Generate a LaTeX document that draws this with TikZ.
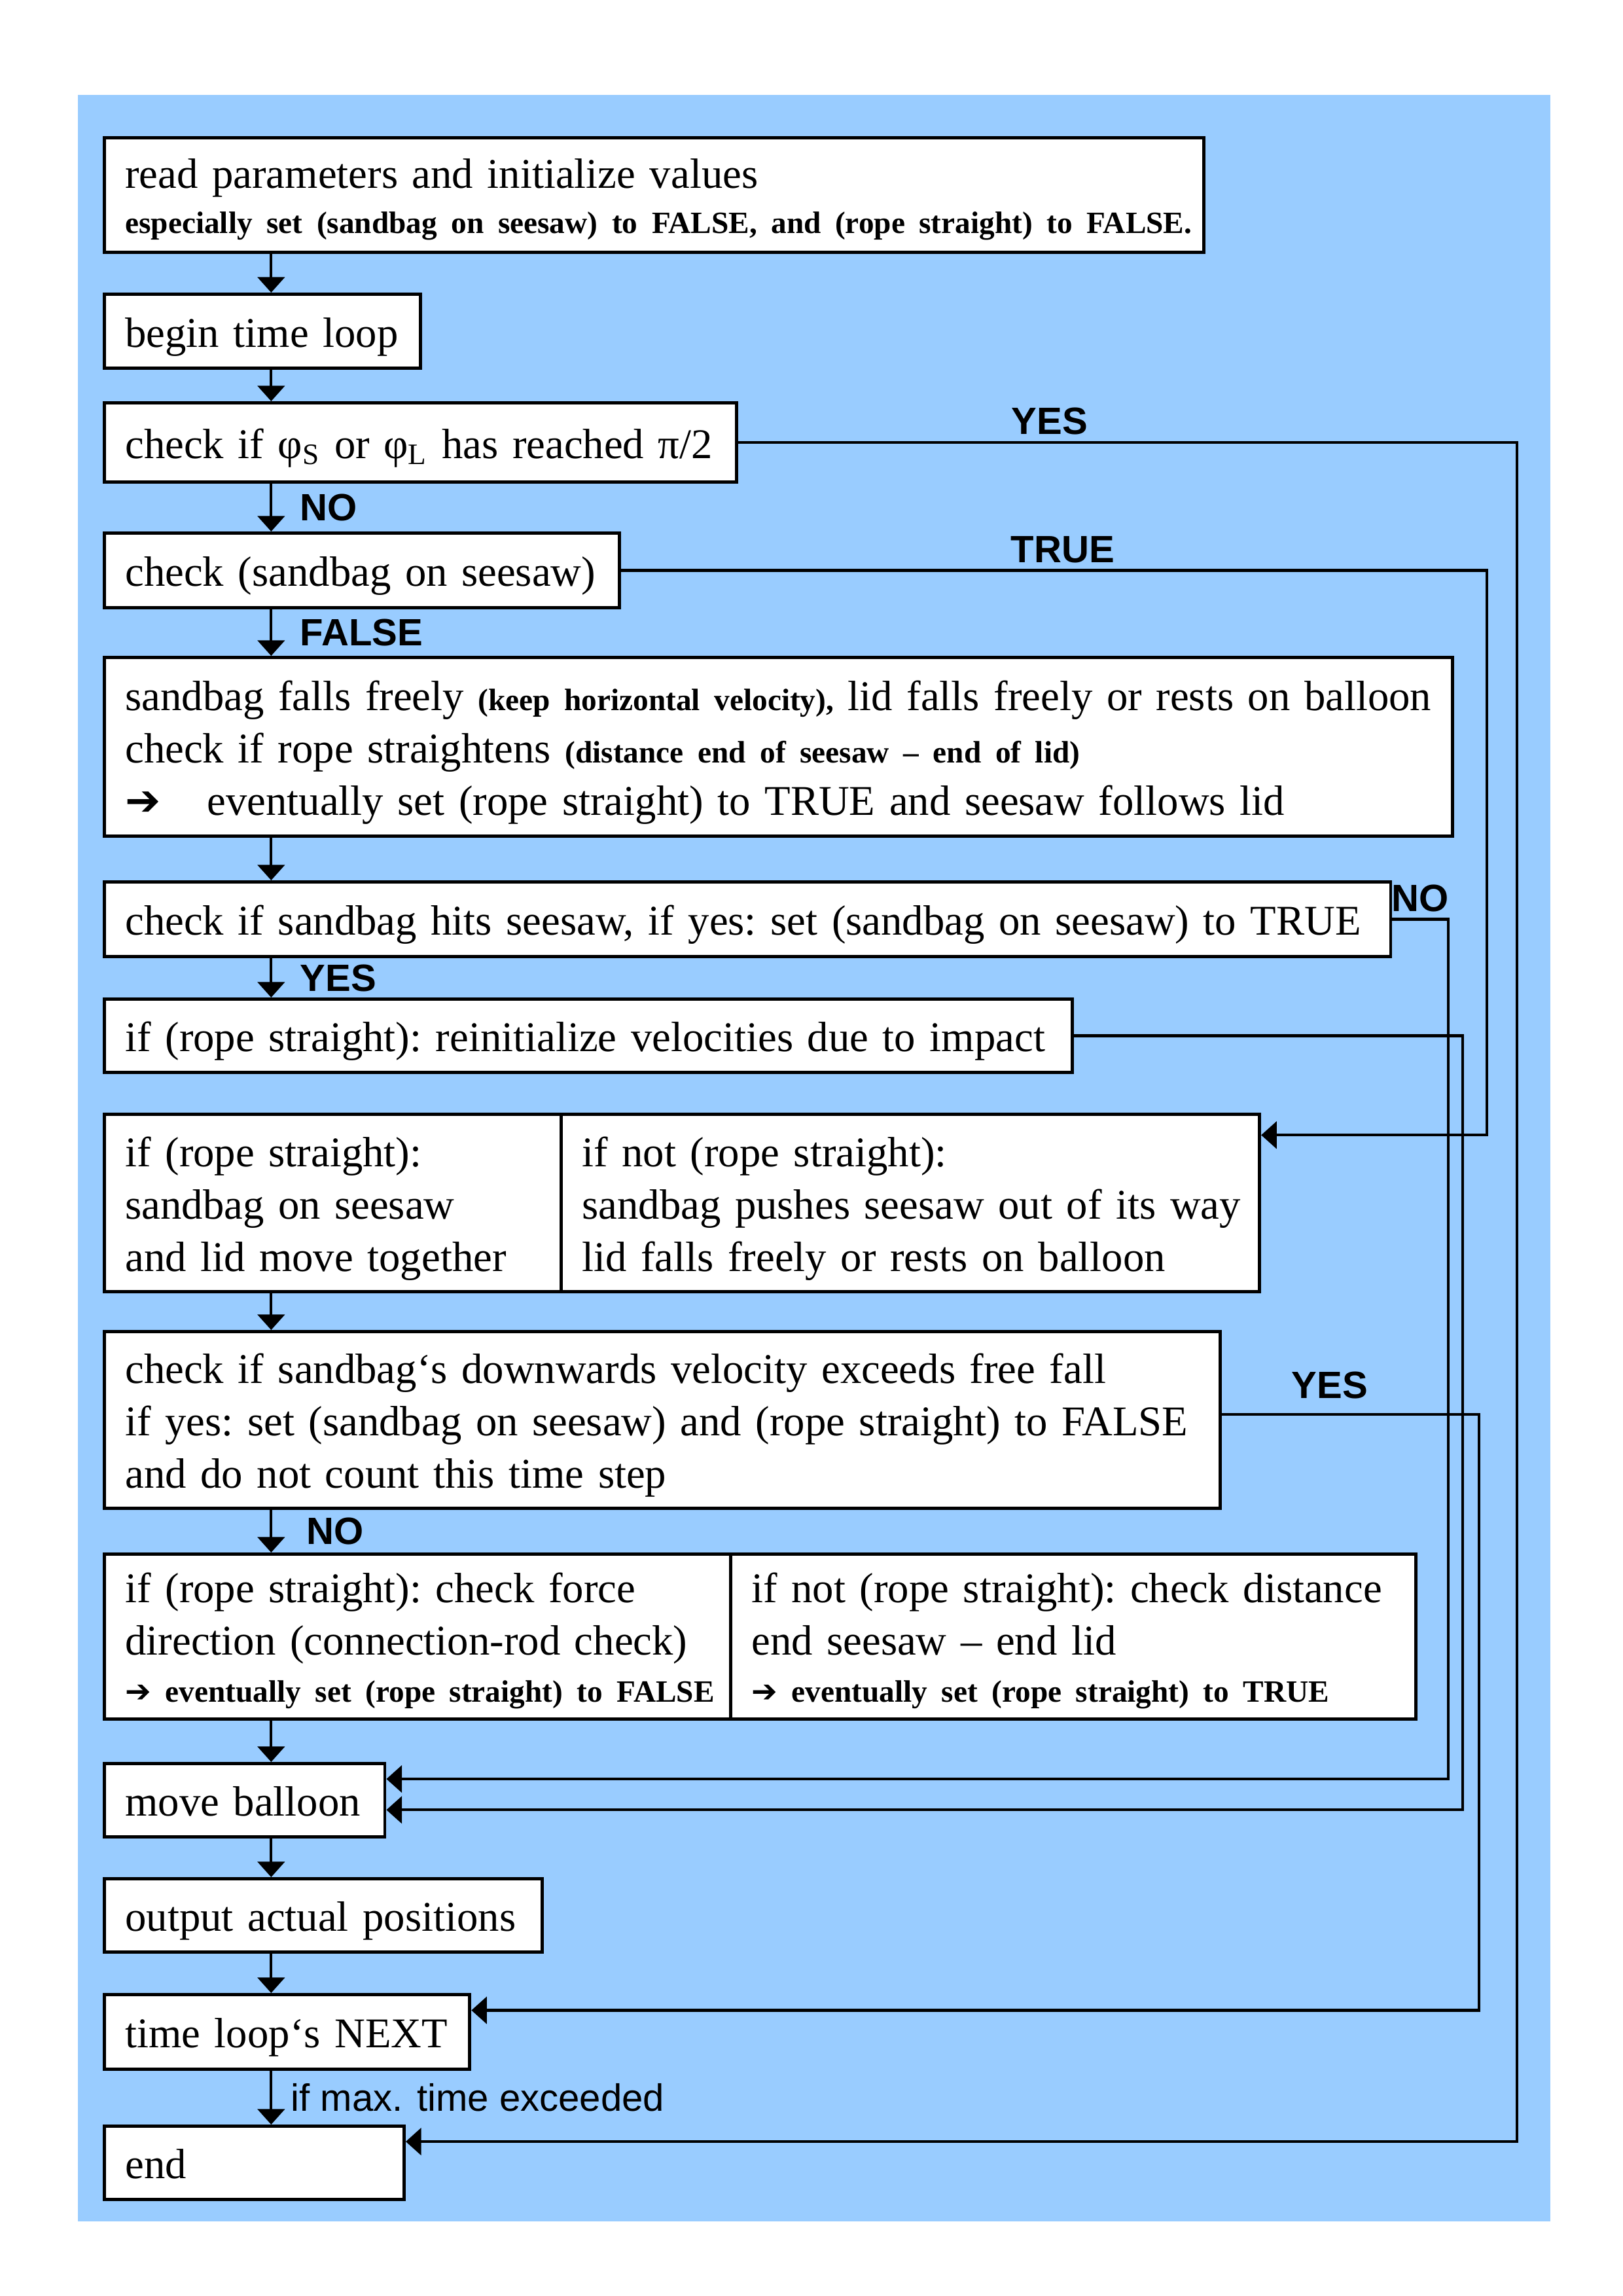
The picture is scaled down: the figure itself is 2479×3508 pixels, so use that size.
\documentclass[tikz,border=0pt]{standalone}
\usepackage{fontspec}
\setmainfont{Liberation Serif}
\setsansfont{Liberation Sans}
\newfontfamily\arrowfont{DejaVu Sans}
\usetikzlibrary{arrows.meta}
\usetikzlibrary{positioning}
\definecolor{panel}{HTML}{99CCFF}
\newcommand{\smallbold}[1]{{\fontsize{11.4}{13.7}\selectfont\bfseries #1}}
\newcommand{\rows}[1]{\raisebox{-0.7mm}[\height][\depth]{\begin{tabular}{@{}l@{}}#1\end{tabular}}}
\tikzset{>={Triangle[length=2mm,width=3.5mm]}}
\tikzset{
  box/.style={draw, fill=white, line width=1.2pt, anchor=north west, align=left,
    inner xsep=2.7mm, inner ysep=0pt, font=\fontsize{15.6}{19.3}\selectfont\frenchspacing},
  arr/.style={->, line width=1pt},
  lbl/.style={font=\sffamily\bfseries\fontsize{14}{16.8}\selectfont, inner sep=0pt}
}

\begin{document}
\begin{tikzpicture}[x=0.08471mm, y=-0.08471mm]
      \useasboundingbox[fill=white] (0,0) rectangle (2479,3508);
      \fill[panel] (119,145) rectangle (2369,3394);
      \node[box, text width=136.9mm, minimum height=14.8mm] (read) at (157,208)
        {\rows{read parameters and initialize values\\[-2.5pt]
         \smallbold{especially set (sandbag on seesaw) to FALSE, and (rope straight) to FALSE.}}};
      \node[box, text width=35.5mm, minimum height=9.57mm] (loop) at (157,447) {\rows{begin time loop}};
      \node[box, text width=76.4mm, minimum height=10.25mm] (phi) at (157,613)
        {\rows{check if φ\textsubscript{S} or φ\textsubscript{L} has reached π/2}};
      \node[box, text width=61.3mm, minimum height=9.66mm] (onsee) at (157,812) {\rows{check (sandbag on seesaw)}};
      \node[box, text width=169.1mm, minimum height=23.1mm] (falls) at (157,1002)
        {\rows{sandbag falls freely \smallbold{(keep horizontal velocity),} lid falls freely or rests on balloon\\
         check if rope straightens \smallbold{(distance end of seesaw – end of lid)}\\
         \makebox[10.6mm][l]{\arrowfont ➔}eventually set (rope straight) to TRUE and seesaw follows lid}};
      \node[box, text width=161.1mm, minimum height=9.66mm] (hits) at (157,1345)
        {\rows{check if sandbag hits seesaw, if yes: set (sandbag on seesaw) to TRUE}};
      \node[box, text width=119.9mm, minimum height=9.49mm] (reinit) at (157,1524)
        {\rows{if (rope straight): reinitialize velocities due to impact}};
      \node[box, text width=53.7mm, minimum height=22.96mm] (st) at (157,1700)
        {\rows{if (rope straight):\\ sandbag on seesaw\\ and lid move together}};
      \node[box, text width=85.0mm, minimum height=22.96mm] (notst) at (855,1700)
        {\rows{if not (rope straight):\\ sandbag pushes seesaw out of its way\\ lid falls freely or rests on balloon}};
      \node[box, text width=139.0mm, minimum height=22.87mm] (exceed) at (157,2032)
        {\rows{check if sandbag‘s downwards velocity exceeds free fall\\
         if yes: set (sandbag on seesaw) and (rope straight) to FALSE\\
         and do not count this time step}};
      \node[box, text width=75.7mm, minimum height=21.35mm] (force) at (157,2372)
        {\rows{if (rope straight): check force\\ direction (connection-rod check)\\[-2pt]
         \smallbold{{\arrowfont ➔} eventually set (rope straight) to FALSE}}};
      \node[box, text width=83.3mm, minimum height=21.35mm] (dist) at (1114,2372)
        {\rows{if not (rope straight): check distance\\ end seesaw – end lid\\[-2pt]
         \smallbold{{\arrowfont ➔} eventually set (rope straight) to TRUE}}};
      \node[box, text width=30.9mm, minimum height=9.49mm] (move) at (157,2692) {\rows{move balloon}};
      \node[box, text width=51.3mm, minimum height=9.49mm] (output) at (157,2868) {\rows{output actual positions}};
      \node[box, text width=41.9mm, minimum height=9.66mm] (next) at (157,3045) {\rows{time loop‘s NEXT}};
      \node[box, text width=33.4mm, minimum height=9.49mm] (endbox) at (157,3246) {\rows{end}};
      \coordinate (busno) at (2213,0);
      \coordinate (busreinit) at (2235,0);
      \coordinate (busnext) at (2260,0);
      \coordinate (busst) at (2272,0);
      \coordinate (busend) at (2318,0);
      \draw[arr] ([xshift=21.8mm]read.south west) -- ([xshift=21.8mm]loop.north west);
      \draw[arr] ([xshift=21.8mm]loop.south west) -- ([xshift=21.8mm]phi.north west);
      \draw[arr] ([xshift=21.8mm]phi.south west) -- node[lbl, right=3.6mm] {NO} ([xshift=21.8mm]onsee.north west);
      \draw[arr] ([xshift=21.8mm]onsee.south west) -- node[lbl, right=3.6mm] {FALSE} ([xshift=21.8mm]falls.north west);
      \draw[arr] ([xshift=21.8mm]falls.south west) -- ([xshift=21.8mm]hits.north west);
      \draw[arr] ([xshift=21.8mm]hits.south west) -- node[lbl, right=3.6mm] {YES} ([xshift=21.8mm]reinit.north west);
      \draw[arr] ([xshift=21.8mm]st.south west) -- ([xshift=21.8mm]exceed.north west);
      \draw[arr] ([xshift=21.8mm]exceed.south west) -- node[lbl, right=4.4mm] {NO} ([xshift=21.8mm]force.north west);
      \draw[arr] ([xshift=21.8mm]force.south west) -- ([xshift=21.8mm]move.north west);
      \draw[arr] ([xshift=21.8mm]move.south west) -- ([xshift=21.8mm]output.north west);
      \draw[arr] ([xshift=21.8mm]output.south west) -- ([xshift=21.8mm]next.north west);
      \draw[arr] ([xshift=21.8mm]next.south west) -- node[right=2.4mm, inner sep=0pt, font=\sffamily\fontsize{14}{16.8}\selectfont] {if max. time exceeded} ([xshift=21.8mm]endbox.north west);
      \draw[arr] (phi.east) -- node[lbl, above=0.8mm, pos=0.4] {YES} (phi.east -| busend) |- ([yshift=2.75mm]endbox.east);
      \draw[arr] (onsee.east) -- node[lbl, above=0.8mm, pos=0.51] {TRUE} (onsee.east -| busst) |- ([yshift=-2.9mm]notst.north east);
      \draw[arr] (hits.east) -- node[lbl, above=0.8mm] {NO} (hits.east -| busno) |- ([yshift=2.75mm]move.east);
      \draw[arr] (reinit.east) -- (reinit.east -| busreinit) |- ([yshift=-1.25mm]move.east);
      \draw[arr] ([yshift=0.7mm]exceed.east) -- node[lbl, above=1.9mm, pos=0.42] {YES} ([yshift=0.7mm]exceed.east -| busnext) |- ([yshift=2.8mm]next.east);
\end{tikzpicture}
\end{document}
